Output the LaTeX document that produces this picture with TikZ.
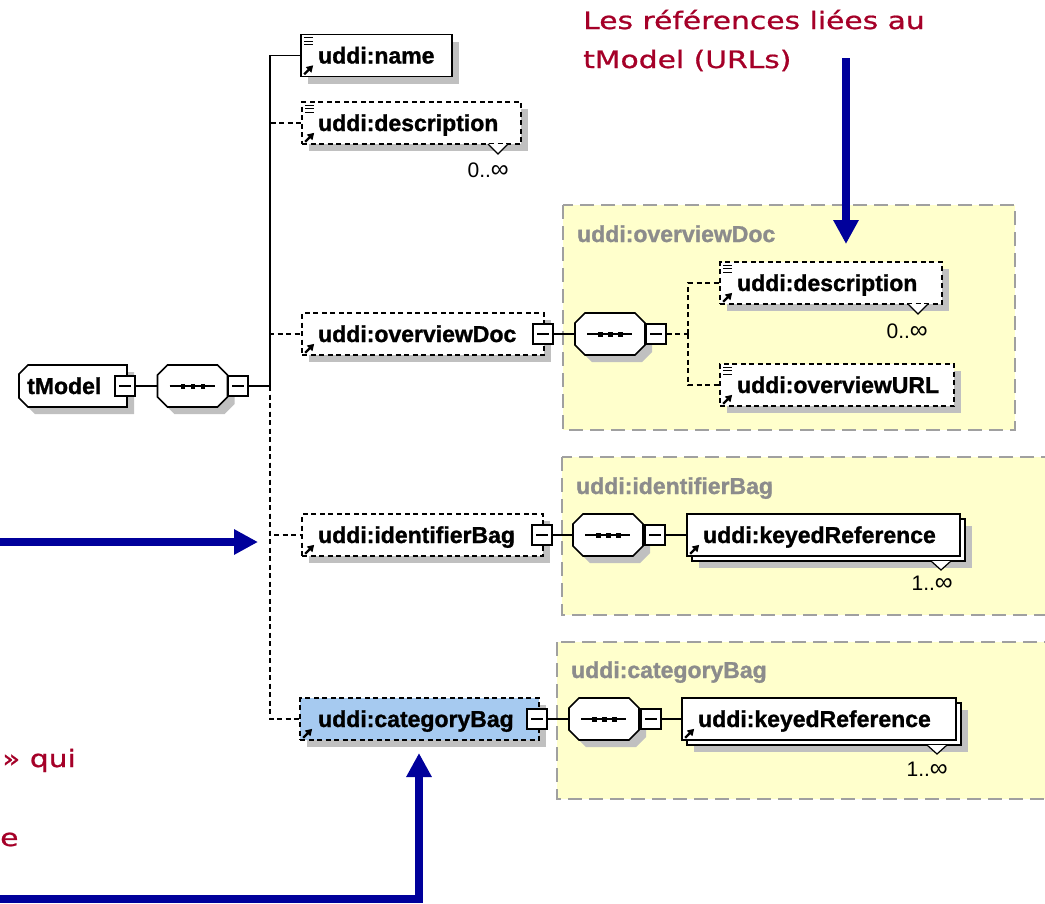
\documentclass[tikz,border=0pt]{standalone}
\usepackage{fontspec}
\setmainfont{Liberation Sans}[BoldFeatures={FakeBold=1.2}]
\newfontfamily\comicf[FakeStretch=1.24,FakeBold=0.8]{DejaVu Sans}
\usetikzlibrary{shadows,arrows.meta}
\definecolor{panelyellow}{RGB}{255,255,204}
\definecolor{panelgray}{RGB}{160,160,160}
\definecolor{shadowgray}{RGB}{192,192,192}
\definecolor{selblue}{RGB}{166,202,240}
\definecolor{arrowblue}{RGB}{0,0,155}
\definecolor{notered}{RGB}{165,0,40}
\definecolor{titlegray}{RGB}{140,140,140}
\tikzset{
  shd/.style={drop shadow={shadow xshift=7pt, shadow yshift=-7pt, fill=shadowgray, opacity=1}},
  elboxns/.style={rectangle, draw=black, line width=1.6pt, fill=white, minimum height=42pt, inner sep=0pt},
  elbox/.style={elboxns, shd},
  optbox/.style={elbox, dash pattern=on 5pt off 3.5pt},
  elabel/.style={anchor=base west, font=\bfseries\fontsize{23}{23}\selectfont, inner sep=0pt},
  ptitle/.style={elabel, text=titlegray},
  mult/.style={anchor=base east, font=\fontsize{21}{21}\selectfont, inner sep=0pt},
  minusbox/.style={rectangle, draw=black, line width=1.5pt, fill=white, minimum size=20pt, inner sep=0pt,
    path picture={\draw[black, line width=1.3pt] ([xshift=-6pt]path picture bounding box.center) -- ([xshift=6pt]path picture bounding box.center);}},
  anchorbox/.style={rectangle, draw=none, fill=none, inner sep=0pt, minimum height=42pt},
  outl/.style={draw=black, fill=white, line width=1.6pt, line join=miter},
  conn/.style={line width=1.5pt},
  dconn/.style={line width=1.5pt, dash pattern=on 5pt off 3.5pt},
  panel/.style={draw=panelgray, line width=2pt, dash pattern=on 14pt off 7pt, fill=panelyellow},
  bluearrow/.style={draw=arrowblue, line width=8pt, -{Triangle[length=24pt,width=24pt]}},
  note/.style={anchor=base west, inner sep=0pt, text=notered, font=\comicf\fontsize{24}{24}\selectfont},
  vmark/.style={line width=1.2pt, fill=white}
}
\newcommand\biginf{{\fontsize{25}{25}\selectfont ∞}}
\newcommand\octpath{(-25,-21) -- (25,-21) -- (35,-11) -- (35,11) -- (25,21) -- (-25,21) -- (-35,11) -- (-35,-11) -- cycle}
\newcommand\seqat[3]{%
  \begin{scope}[shift={(#2,#3)}]
    \fill[shadowgray, shift={(7,7)}] \octpath;
    \path[outl] \octpath;
    \draw[line width=1.4pt] (-23,0) -- (22,0);
    \foreach \dx in {-12,-2,8} \fill[black] (\dx,-2.5) rectangle ++(4.5,5);
  \end{scope}
  \node[anchorbox, minimum width=70pt] (#1) at (#2,#3) {};}
\newcommand\refarrow[1]{\draw[line width=2.2pt,-{Triangle[length=6.5pt,width=7.5pt]}] ([shift={(4pt,3pt)}]#1.south west) -- ([shift={(13pt,12pt)}]#1.south west);}
\newcommand\simplelines[1]{\foreach \dy in {4,7.5,11} \draw[line width=1.4pt] ([shift={(4pt,-\dy pt)}]#1.north west) -- ++(9pt,0pt);}
\begin{document}
\begin{tikzpicture}[x=1pt,y=-1pt]
\useasboundingbox (0,0) rectangle (1045,903);
\clip (0,0) rectangle (1045,903);
\fill[white] (0,0) rectangle (1045,903);

% panels
\draw[panel] (563,205) rectangle (1015,430);
\draw[panel] (562,457) rectangle (1060,615);
\draw[panel] (557,642) rectangle (1060,799);
\node[ptitle] (t1) at (577,242) {uddi:overviewDoc};
\node[ptitle] (t2) at (576,494) {uddi:identifierBag};
\node[ptitle] (t3) at (571,678) {uddi:categoryBag};

% root
\begin{scope}[shift={(73,386)}]
  \fill[shadowgray, shift={(7,7)}] (-45,-21) -- (54,-21) -- (54,21) -- (-45,21) -- (-54,12) -- (-54,-12) -- cycle;
  \path[outl] (-45,-21) -- (54,-21) -- (54,21) -- (-45,21) -- (-54,12) -- (-54,-12) -- cycle;
\end{scope}
\node[anchorbox, minimum width=108pt] (tm) at (73,386) {};
\node[elabel] (tmt) at (27,394) {tModel};
\node[minusbox] (m0) at (125,386) {};
\seqat{s0}{192.5}{386}
\node[minusbox] (ms0) at (238,386) {};
\coordinate (j0) at (270,386);

% top-level children
\node[elbox, minimum width=151pt] (name) at (376.5,55.5) {};
\simplelines{name}\refarrow{name}
\node[elabel] (namet) at (318,63.5) {uddi:name};

\node[optbox, minimum width=219pt] (d1) at (411.5,123) {};
\simplelines{d1}\refarrow{d1}
\node[elabel] (d1t) at (318,131) {uddi:description};
\draw[vmark] (488,144) -- (498,154) -- (508,144);
\node[mult] (d1m) at (509,177) {0..\biginf};

\node[optbox, minimum width=242pt] (od) at (423,334) {};
\refarrow{od}
\node[elabel] (odt) at (318,342) {uddi:overviewDoc};
\node[minusbox] (mod) at (543,334) {};

\node[optbox, minimum width=241pt] (ib) at (422.5,535) {};
\refarrow{ib}
\node[elabel] (ibt) at (318,543) {uddi:identifierBag};
\node[minusbox] (mib) at (542,535) {};

\node[optbox, fill=selblue, minimum width=239pt] (cb) at (419.5,719) {};
\refarrow{cb}
\node[elabel] (cbt) at (318,727) {uddi:categoryBag};
\node[minusbox] (mcb) at (537,719) {};

% overviewDoc content
\seqat{s1}{610}{334}
\node[minusbox] (ms1) at (656,334) {};
\coordinate (j1) at (688,334);
\node[optbox, minimum width=222pt] (d2) at (831,283) {};
\simplelines{d2}\refarrow{d2}
\node[elabel] (d2t) at (737,291) {uddi:description};
\draw[vmark] (908,304) -- (918,314) -- (928,304);
\node[mult] (d2m) at (928,338) {0..\biginf};
\node[optbox, minimum width=234pt] (url) at (837,385) {};
\simplelines{url}\refarrow{url}
\node[elabel] (urlt) at (737,393) {uddi:overviewURL};

% identifierBag content
\seqat{s2}{608}{535}
\node[minusbox] (ms2) at (655,535) {};
\node[elbox, minimum width=273pt] (kr1b) at (828.5,540) {};
\node[elboxns, minimum width=273pt] (kr1) at (823.5,535) {};
\refarrow{kr1}
\node[elabel] (kr1t) at (703,543) {uddi:keyedReference};
\draw[vmark] (931,561) -- (941,570) -- (951,561);
\node[mult] (kr1m) at (953,590) {1..\biginf};

% categoryBag content
\seqat{s3}{604}{719}
\node[minusbox] (ms3) at (651,719) {};
\node[elbox, minimum width=274pt] (kr2b) at (824,724) {};
\node[elboxns, minimum width=274pt] (kr2) at (819,719) {};
\refarrow{kr2}
\node[elabel] (kr2t) at (698,727) {uddi:keyedReference};
\draw[vmark] (927,745) -- (937,754) -- (947,745);
\node[mult] (kr2m) at (948,776) {1..\biginf};

% connectors
\draw[conn] (m0.east) -- (s0.west);
\draw[conn] (ms0.east) -- (j0);
\draw[conn] (j0) |- (name.west);
\draw[dconn] (j0) |- (d1.west);
\draw[dconn] (j0) |- (od.west);
\draw[dconn] (j0) |- (ib.west);
\draw[dconn] (j0) |- (cb.west);
\draw[conn] (mod.east) -- (s1.west);
\draw[conn] (mib.east) -- (s2.west);
\draw[conn] (mcb.east) -- (s3.west);
\draw[dconn] (ms1.east) -- (j1);
\draw[dconn] (j1) |- (d2.west);
\draw[dconn] (j1) |- (url.west);
\draw[conn] (ms2.east) -- (kr1.west);
\draw[conn] (ms3.east) -- (kr2.west);

% notes and blue arrows
\node[note] (n1) at (583,29) {Les références liées au};
\node[note] (n2) at (583,68) {tModel (URLs)};
\node[note] (n3) at (2,767) {» qui};
\node[note] (n4) at (0,846) {e};
\coordinate (a1s) at (846,58);
\coordinate (a1e) at (846,244);
\draw[bluearrow] (a1s) -- (a1e);
\coordinate (a2s) at (-10,542);
\coordinate (a2e) at (258,542);
\draw[bluearrow] (a2s) -- (a2e);
\coordinate (a3s) at (-10,899);
\coordinate (a3e) at (419,753);
\draw[bluearrow] (a3s) -| (a3e);
\end{tikzpicture}
\end{document}
